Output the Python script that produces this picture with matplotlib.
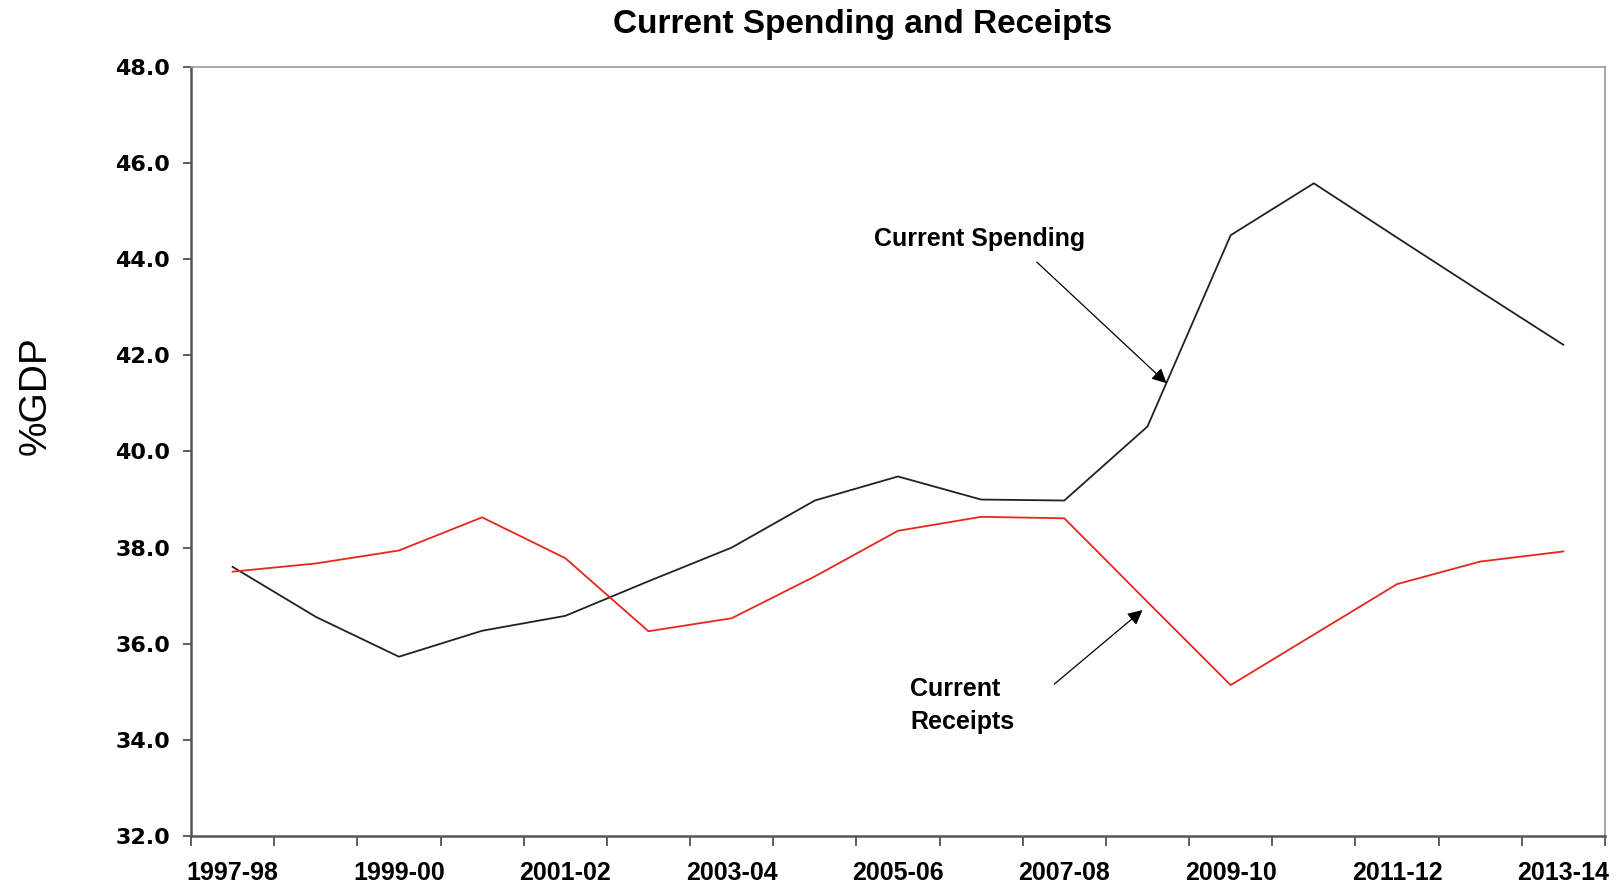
import matplotlib
matplotlib.use("Agg")
import matplotlib.pyplot as plt

years = ["1997-98", "1998-99", "1999-00", "2000-01", "2001-02", "2002-03",
         "2003-04", "2004-05", "2005-06", "2006-07", "2007-08", "2008-09",
         "2009-10", "2010-11", "2011-12", "2012-13", "2013-14"]
spending = [37.60, 36.56, 35.73, 36.27, 36.58, 37.30, 38.00, 38.98, 39.48,
            39.00, 38.98, 40.52, 44.50, 45.58, 44.45, 43.33, 42.22]
receipts = [37.50, 37.67, 37.94, 38.63, 37.78, 36.26, 36.53, 37.40, 38.35,
            38.64, 38.61, 36.87, 35.14, 36.19, 37.24, 37.71, 37.92]
yticks = [32.0, 34.0, 36.0, 38.0, 40.0, 42.0, 44.0, 46.0, 48.0]

fig = plt.figure(figsize=(16.2, 8.92), dpi=100)
ax = fig.add_axes([0.1179, 0.0628, 0.9907 - 0.1179, 0.9249 - 0.0628])

x = list(range(len(years)))
ax.plot(x, spending, color="#222222", lw=1.3)
ax.plot(x, receipts, color="#e8261c", lw=1.3)

ax.set_xlim(-0.5, len(years) - 0.5)
ax.set_ylim(32, 48)

ax.set_xticks([i - 0.5 for i in range(len(years) + 1)])
ax.set_xticklabels([])
ax.set_xticks(x[::2], minor=True)
ax.set_xticklabels(years[::2], minor=True, fontfamily="Liberation Sans",
                   fontweight="bold", fontsize=18)
ax.tick_params(axis="x", which="major", direction="out", length=7, width=1.2,
               color="#444444")
ax.tick_params(axis="x", which="minor", length=0, pad=18)

ax.set_yticks(yticks)
ax.set_yticklabels([f"{v:.1f}" for v in yticks], fontfamily="DejaVu Sans",
                   fontweight="bold", fontsize=16)
ax.tick_params(axis="y", direction="out", length=6, width=1.2, color="#444444",
               pad=9)

for s in ["left", "bottom"]:
    ax.spines[s].set_color("#555555")
    ax.spines[s].set_linewidth(1.8)
for s in ["top", "right"]:
    ax.spines[s].set_color("#999999")
    ax.spines[s].set_linewidth(1.2)

fig.text(0.5325, 0.972, "Current Spending and Receipts", ha="center", va="center",
         fontfamily="Liberation Sans", fontweight="bold", fontsize=24)
fig.text(0.022, 0.556, "%GDP", rotation=90, ha="center", va="center",
         fontfamily="Liberation Sans", fontsize=28)

ax.annotate("", xy=(11.23, 41.42), xytext=(9.67, 43.94),
            arrowprops=dict(arrowstyle="-|>", color="black", lw=0.9,
                            mutation_scale=22, shrinkA=0, shrinkB=0))
ax.text(7.71, 44.42, "Current Spending", ha="left", va="center",
        fontfamily="Liberation Sans", fontweight="bold", fontsize=18)

ax.annotate("", xy=(10.94, 36.70), xytext=(9.88, 35.16),
            arrowprops=dict(arrowstyle="-|>", color="black", lw=0.9,
                            mutation_scale=22, shrinkA=0, shrinkB=0))
ax.text(8.15, 35.30, "Current\nReceipts", ha="left", va="top",
        fontfamily="Liberation Sans", fontweight="bold", fontsize=18,
        linespacing=1.45)

fig.savefig("out.png", dpi=100)
